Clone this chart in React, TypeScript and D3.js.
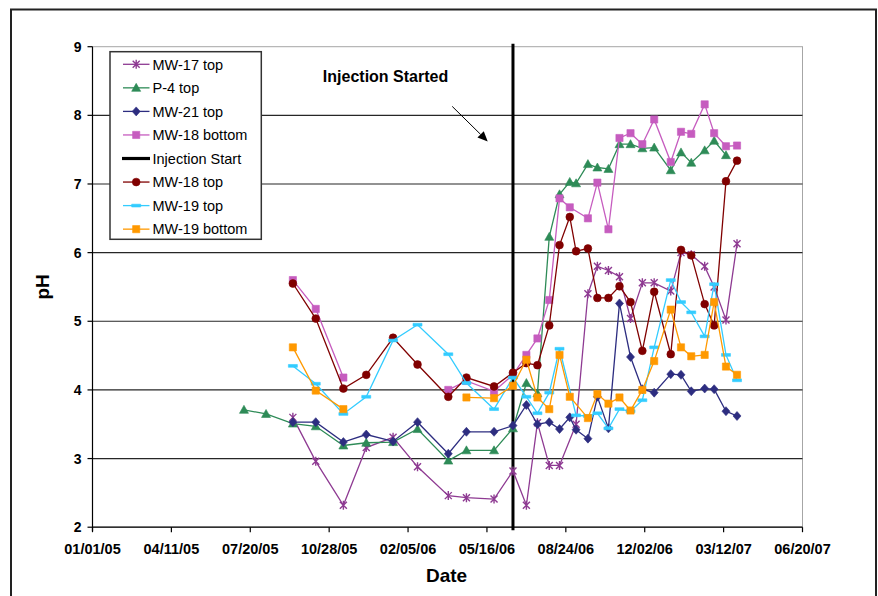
import React, { useRef, useEffect } from 'react';
import * as d3 from 'd3';

const width = 878;
const height = 596;

// axis ticks
const xTickDates = ['2005-01-01', '2005-04-11', '2005-07-20', '2005-10-28', '2006-02-05', '2006-05-16', '2006-08-24', '2006-12-02', '2007-03-12', '2007-06-20'];
const yTicks = [2, 3, 4, 5, 6, 7, 8, 9];

const injectionDate = '2006-06-18';

// MW-17 top
const mw17Dates = ['2005-09-12', '2005-10-11', '2005-11-15', '2005-12-14', '2006-01-17', '2006-02-17', '2006-03-28', '2006-04-20', '2006-05-25', '2006-06-18',
  '2006-07-05', '2006-07-19', '2006-08-03', '2006-08-16', '2006-09-06', '2006-09-21', '2006-10-03', '2006-10-17', '2006-10-31', '2006-11-14',
  '2006-11-29', '2006-12-14', '2007-01-04', '2007-01-17', '2007-01-30', '2007-02-16', '2007-02-28', '2007-03-15', '2007-03-29'];
const mw17Values = [3.60, 2.96, 2.32, 3.16, 3.31, 2.88, 2.46, 2.43, 2.41, 2.82,
  2.32, 3.52, 2.90, 2.90, 3.50, 5.40, 5.80, 5.74, 5.65, 5.04,
  5.56, 5.56, 5.44, 6.00, 5.97, 5.80, 5.50, 5.02, 6.13];

// P-4 top
const p4Dates = ['2005-07-12', '2005-08-09', '2005-09-12', '2005-10-11', '2005-11-15', '2005-12-14', '2006-01-17', '2006-02-17', '2006-03-28', '2006-04-20',
  '2006-05-25', '2006-06-18', '2006-07-05', '2006-07-19', '2006-08-03', '2006-08-16', '2006-08-29', '2006-09-06', '2006-09-21', '2006-10-03',
  '2006-10-17', '2006-10-31', '2006-11-14', '2006-11-29', '2006-12-14', '2007-01-04', '2007-01-17', '2007-01-30', '2007-02-16', '2007-02-28',
  '2007-03-15'];
const p4Values = [3.71, 3.65, 3.51, 3.47, 3.19, 3.23, 3.24, 3.43, 2.97, 3.12,
  3.12, 3.44, 4.10, 3.95, 6.23, 6.85, 7.03, 7.01, 7.29, 7.24,
  7.22, 7.58, 7.58, 7.52, 7.53, 7.20, 7.46, 7.31, 7.49, 7.63,
  7.42];

// MW-21 top
const mw21Dates = ['2005-09-12', '2005-10-11', '2005-11-15', '2005-12-14', '2006-01-17', '2006-02-17', '2006-03-28', '2006-04-20', '2006-05-25', '2006-06-18',
  '2006-07-05', '2006-07-19', '2006-08-03', '2006-08-16', '2006-08-29', '2006-09-06', '2006-09-21', '2006-10-03', '2006-10-17', '2006-10-31',
  '2006-11-14', '2006-11-29', '2006-12-14', '2007-01-04', '2007-01-17', '2007-01-30', '2007-02-16', '2007-02-28', '2007-03-15', '2007-03-29'];
const mw21Values = [3.53, 3.53, 3.24, 3.35, 3.25, 3.53, 3.07, 3.39, 3.39, 3.48,
  3.78, 3.50, 3.53, 3.43, 3.60, 3.42, 3.29, 3.90, 3.44, 5.26,
  4.48, 4.01, 3.96, 4.23, 4.22, 3.98, 4.02, 4.01, 3.69, 3.62];

// MW-18 bottom (null = gap in the record)
const mw18bDates = ['2005-09-12', '2005-10-11', '2005-11-15', '2005-12-14', '2006-03-28', '2006-04-20', '2006-05-25', '2006-06-18',
  '2006-07-05', '2006-07-19', '2006-08-03', '2006-08-16', '2006-08-29', '2006-09-21', '2006-10-03', '2006-10-17', '2006-10-31', '2006-11-14',
  '2006-11-29', '2006-12-14', '2007-01-04', '2007-01-17', '2007-01-30', '2007-02-16', '2007-02-28', '2007-03-15', '2007-03-29'];
const mw18bValues = [5.60, 5.18, 4.18, null, 4.00, 4.13, 3.98, 4.22,
  4.51, 4.75, 5.31, 6.79, 6.66, 6.50, 7.02, 6.34, 7.67, 7.74,
  7.58, 7.94, 7.32, 7.76, 7.73, 8.16, 7.74, 7.55, 7.56];

// MW-18 top
const mw18tDates = mw21Dates;
const mw18tValues = [5.55, 5.04, 4.02, 4.22, 4.76, 4.37, 3.90, 4.18, 4.05, 4.25,
  4.39, 4.36, 4.94, 6.11, 6.52, 6.02, 6.06, 5.34, 5.34, 5.51,
  5.28, 4.57, 5.43, 4.52, 6.04, 5.96, 5.25, 4.94, 7.04, 7.34];

// MW-19 top
const mw19tDates = ['2005-09-12', '2005-10-11', '2005-11-15', '2005-12-14', '2006-01-17', '2006-02-17', '2006-03-28', '2006-04-20', '2006-05-25', '2006-06-18',
  '2006-07-05', '2006-07-19', '2006-08-03', '2006-08-16', '2006-09-06', '2006-09-21', '2006-10-03', '2006-10-17', '2006-10-31', '2006-11-14',
  '2006-11-29', '2006-12-14', '2007-01-04', '2007-01-17', '2007-01-30', '2007-02-16', '2007-02-28', '2007-03-15', '2007-03-29'];
const mw19tValues = [4.35, 4.09, 3.65, 3.90, 4.72, 4.95, 4.52, 4.10, 3.72, 4.18,
  3.90, 3.66, 3.96, 4.60, 3.63, 3.62, 3.66, 3.44, 3.72, 3.69,
  3.85, 4.62, 5.60, 5.28, 5.13, 4.78, 5.54, 4.51, 4.14];

// MW-19 bottom (null = gap in the record)
const mw19bDates = ['2005-09-12', '2005-10-11', '2005-11-15', '2005-12-14', '2006-04-20', '2006-05-25', '2006-06-18',
  '2006-07-05', '2006-07-19', '2006-08-03', '2006-08-16', '2006-08-29', '2006-09-21', '2006-10-03', '2006-10-17', '2006-10-31', '2006-11-14',
  '2006-11-29', '2006-12-14', '2007-01-04', '2007-01-17', '2007-01-30', '2007-02-16', '2007-02-28', '2007-03-15', '2007-03-29'];
const mw19bValues = [4.62, 3.99, 3.72, null, 3.89, 3.88, 4.06,
  4.44, 3.89, 3.72, 4.51, 3.90, 3.59, 3.94, 3.80, 3.89, 3.70,
  4.00, 4.42, 5.17, 4.62, 4.49, 4.51, 5.28, 4.34, 4.22];

// legend order
const seriesNames = ['MW-17 top', 'P-4 top', 'MW-21 top', 'MW-18 bottom', 'Injection Start', 'MW-18 top', 'MW-19 top', 'MW-19 bottom'];

const annotationText = 'Injection Started';
const annotationAt = { date: '2005-10-20', ph: 8.48 };
const arrowFrom = { date: '2006-04-02', ph: 8.13 };
const arrowTo = { date: '2006-05-17', ph: 7.62 };

const font = '"Liberation Sans", Arial, sans-serif';

const markerPaths = {
  asterisk: 'M-3.5,-3.5L3.5,3.5M-3.5,3.5L3.5,-3.5M0,-4.5L0,4.5',
  triangle: 'M0,-4.5L4.5,3.5L-4.5,3.5Z',
  diamond: 'M0,-4.5L4,0L0,4.5L-4,0Z',
  square: 'M-3.6,-3.6h7.2v7.2h-7.2Z',
  circle: 'M0,-3.9A3.9,3.9,0,1,1,0,3.9A3.9,3.9,0,1,1,0,-3.9Z',
  bar: 'M-4.5,-1.4h9v2.8h-9Z',
};

const series = [
  { name: 'MW-17 top', color: '#8e3a92', marker: 'asterisk', dates: mw17Dates, values: mw17Values },
  { name: 'P-4 top', color: '#2e8b57', marker: 'triangle', dates: p4Dates, values: p4Values },
  { name: 'MW-21 top', color: '#2d2d80', marker: 'diamond', dates: mw21Dates, values: mw21Values },
  { name: 'MW-18 bottom', color: '#c65cbf', marker: 'square', dates: mw18bDates, values: mw18bValues },
  { name: 'MW-18 top', color: '#800000', marker: 'circle', dates: mw18tDates, values: mw18tValues },
  { name: 'MW-19 top', color: '#33ccff', marker: 'bar', dates: mw19tDates, values: mw19tValues },
  { name: 'MW-19 bottom', color: '#ff9900', marker: 'square', dates: mw19bDates, values: mw19bValues },
];

const parse = d3.utcParse('%Y-%m-%d');
const fmt = d3.utcFormat('%m/%d/%y');

const App = () => {
  const ref = useRef(null);

  useEffect(() => {
    const svg = d3.select(ref.current);
    svg.selectAll('*').remove();

    const left = 92.5, right = 802.5, top = 46.7, bottom = 527.2;

    const x = d3.scaleUtc()
      .domain([parse(xTickDates[0]), parse(xTickDates[xTickDates.length - 1])])
      .range([left, right]);
    const y = d3.scaleLinear().domain([2, 9]).range([bottom, top]);

    // outer chart border
    svg.append('rect')
      .attr('x', 11).attr('y', 9.5)
      .attr('width', 865).attr('height', 600)
      .attr('fill', '#fff')
      .attr('stroke', '#222').attr('stroke-width', 2);

    // plot area
    svg.append('rect')
      .attr('x', left).attr('y', top)
      .attr('width', right - left).attr('height', bottom - top)
      .attr('fill', '#fff')
      .attr('stroke', '#a6a6a6').attr('stroke-width', 1);

    // grid lines
    svg.append('g')
      .selectAll('line')
      .data(yTicks.filter(d => d > 2 && d < 9))
      .enter()
      .append('line')
      .attr('x1', left).attr('x2', right)
      .attr('y1', d => y(d)).attr('y2', d => y(d))
      .attr('stroke', '#262626').attr('stroke-width', 1.2);

    // axes
    svg.append('line')
      .attr('x1', left).attr('x2', left).attr('y1', top).attr('y2', bottom + 4)
      .attr('stroke', '#000').attr('stroke-width', 1.2);
    svg.append('line')
      .attr('x1', left).attr('x2', right).attr('y1', bottom).attr('y2', bottom)
      .attr('stroke', '#000').attr('stroke-width', 1.2);

    yTicks.forEach(t => {
      svg.append('line')
        .attr('x1', left - 5).attr('x2', left).attr('y1', y(t)).attr('y2', y(t))
        .attr('stroke', '#000').attr('stroke-width', 1.2);
      svg.append('text')
        .attr('x', left - 11).attr('y', y(t)).attr('dy', '0.36em')
        .attr('text-anchor', 'end')
        .attr('font-family', font).attr('font-weight', 'bold').attr('font-size', 14)
        .attr('fill', '#000')
        .text(t);
    });

    xTickDates.forEach(t => {
      const d = parse(t);
      svg.append('line')
        .attr('x1', x(d)).attr('x2', x(d)).attr('y1', bottom).attr('y2', bottom + 5)
        .attr('stroke', '#000').attr('stroke-width', 1.2);
      svg.append('text')
        .attr('x', x(d)).attr('y', bottom + 26.5)
        .attr('text-anchor', 'middle')
        .attr('font-family', font).attr('font-weight', 'bold').attr('font-size', 14.5)
        .attr('fill', '#000')
        .text(fmt(d));
    });

    // axis titles
    svg.append('text')
      .attr('x', (left + right) / 2 - 1).attr('y', 582)
      .attr('text-anchor', 'middle')
      .attr('font-family', font).attr('font-weight', 'bold').attr('font-size', 19)
      .text('Date');
    svg.append('text')
      .attr('transform', `translate(49,${(top + bottom) / 2}) rotate(-90)`)
      .attr('text-anchor', 'middle')
      .attr('font-family', font).attr('font-weight', 'bold').attr('font-size', 19)
      .text('pH');

    // injection start line
    const xi = x(parse(injectionDate));
    svg.append('line')
      .attr('x1', xi).attr('x2', xi).attr('y1', y(9) - 3).attr('y2', y(2) + 3)
      .attr('stroke', '#000').attr('stroke-width', 3);

    // series
    const line = d3.line()
      .defined(d => d.v !== null)
      .x(d => x(d.date))
      .y(d => y(d.v));

    series.forEach(s => {
      const pts = s.dates.map((d, i) => ({ date: parse(d), v: s.values[i] }));
      svg.append('path')
        .datum(pts)
        .attr('fill', 'none')
        .attr('stroke', s.color)
        .attr('stroke-width', 1.3)
        .attr('d', line);
      const isStroke = s.marker === 'asterisk';
      svg.append('g')
        .selectAll('path')
        .data(pts.filter(p => p.v !== null))
        .enter()
        .append('path')
        .attr('transform', p => `translate(${x(p.date)},${y(p.v)})`)
        .attr('d', markerPaths[s.marker])
        .attr('fill', isStroke ? 'none' : s.color)
        .attr('stroke', s.color)
        .attr('stroke-width', isStroke ? 1.4 : 0.6);
    });

    // annotation
    svg.append('text')
      .attr('x', x(parse(annotationAt.date))).attr('y', y(annotationAt.ph))
      .attr('font-family', font).attr('font-weight', 'bold').attr('font-size', 16)
      .text(annotationText);
    const ax0 = x(parse(arrowFrom.date)), ay0 = y(arrowFrom.ph);
    const ax1 = x(parse(arrowTo.date)), ay1 = y(arrowTo.ph);
    const len = Math.hypot(ax1 - ax0, ay1 - ay0);
    const ux = (ax1 - ax0) / len, uy = (ay1 - ay0) / len;
    const head = 10, hw = 4.5;
    const bx = ax1 - ux * head, by = ay1 - uy * head;
    svg.append('line')
      .attr('x1', ax0).attr('y1', ay0).attr('x2', bx).attr('y2', by)
      .attr('stroke', '#000').attr('stroke-width', 1);
    svg.append('path')
      .attr('d', `M${ax1},${ay1}L${bx - uy * hw},${by + ux * hw}L${bx + uy * hw},${by - ux * hw}Z`)
      .attr('fill', '#000');

    // legend
    const lg = svg.append('g');
    lg.append('rect')
      .attr('x', 110).attr('y', 51.7).attr('width', 151.3).attr('height', 187.6)
      .attr('fill', '#fff').attr('stroke', '#333').attr('stroke-width', 1.5);
    seriesNames.forEach((name, i) => {
      const ly = 64.3 + i * 23.55;
      const s = series.find(d => d.name === name);
      if (!s) {
        lg.append('line')
          .attr('x1', 122).attr('x2', 150).attr('y1', ly).attr('y2', ly)
          .attr('stroke', '#000').attr('stroke-width', 3.2);
      } else {
        lg.append('line')
          .attr('x1', 123).attr('x2', 149.5).attr('y1', ly).attr('y2', ly)
          .attr('stroke', s.color).attr('stroke-width', 1.3);
        const isStroke = s.marker === 'asterisk';
        lg.append('path')
          .attr('transform', `translate(136.2,${ly})`)
          .attr('d', markerPaths[s.marker])
          .attr('fill', isStroke ? 'none' : s.color)
          .attr('stroke', s.color)
          .attr('stroke-width', isStroke ? 1.4 : 0.6);
      }
      lg.append('text')
        .attr('x', 152.5).attr('y', ly).attr('dy', '0.36em')
        .attr('font-family', font).attr('font-size', 14.5)
        .attr('fill', '#000')
        .text(name);
    });
  }, []);

  return (
    <svg ref={ref} width={width} height={height}
      style={{ position: 'absolute', left: 0, top: 0, display: 'block' }} />
  );
};

export default App;
